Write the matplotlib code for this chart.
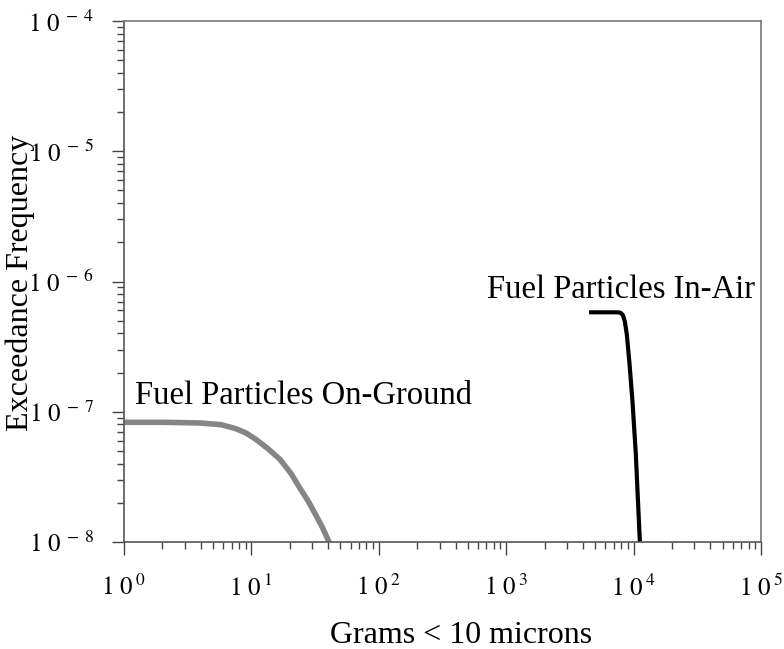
import numpy as np
import matplotlib
matplotlib.use('Agg')
import matplotlib.pyplot as plt
from matplotlib.ticker import LogLocator, FuncFormatter, NullFormatter

plt.rcParams['font.family'] = 'Liberation Serif'
plt.rcParams['mathtext.fontset'] = 'stix'

# curves
ground_x = [1.0, 2.0, 3.95, 5.8, 7.43, 9.0, 10.7, 13.5, 16.8, 20.5, 24.1, 28.0, 31.5, 36.0, 40.7]
ground_y = [8.3e-8, 8.3e-8, 8.2e-8, 7.95e-8, 7.45e-8, 6.9e-8, 6.2e-8, 5.2e-8, 4.3e-8, 3.35e-8,
            2.58e-8, 2.05e-8, 1.66e-8, 1.3e-8, 1.0e-8]
air_x = [4470, 7500, 7900, 8250, 8550, 8850, 9300, 9800, 10400, 11200]
air_y = [5.8e-7, 5.8e-7, 5.75e-7, 5.5e-7, 4.9e-7, 3.9e-7, 2.3e-7, 1.2e-7, 4.8e-8, 1.0e-8]

fig = plt.figure(figsize=(7.84, 6.49), dpi=100)
ax = fig.add_axes([124/784, 1-542/649, (761-124)/784, (542-21)/649])

ax.plot(ground_x, ground_y, color='#858585', lw=4.0, solid_capstyle='butt')
ax.plot(air_x, air_y, color='black', lw=3.0, solid_capstyle='butt', solid_joinstyle='round')

ax.set_xscale('log')
ax.set_yscale('log')
ax.set_xlim(1, 1e5)
ax.set_ylim(1e-8, 1e-4)

def fmt(v, pos):
    n = int(round(np.log10(v)))
    if n < 0:
        return r'$\mathrm{1\,\,0^{\;-\;%d}}$' % (-n)
    return r'$\mathrm{1\,\,0^{\;%d}}$' % n

ax.xaxis.set_major_locator(LogLocator(base=10, numticks=10))
ax.yaxis.set_major_locator(LogLocator(base=10, numticks=10))
ax.xaxis.set_minor_locator(LogLocator(base=10, subs=np.arange(2, 10), numticks=20))
ax.yaxis.set_minor_locator(LogLocator(base=10, subs=np.arange(2, 10), numticks=20))
ax.xaxis.set_major_formatter(FuncFormatter(fmt))
ax.yaxis.set_major_formatter(FuncFormatter(fmt))
ax.xaxis.set_minor_formatter(NullFormatter())
ax.yaxis.set_minor_formatter(NullFormatter())

ax.tick_params(axis='x', which='major', direction='out', length=9.5, width=1, labelsize=18, pad=14, color='#444444')
ax.tick_params(axis='x', which='minor', direction='out', length=5, width=1, color='#444444')
ax.tick_params(axis='y', which='major', direction='out', length=8.5, width=1, labelsize=18, pad=13, color='#444444')
ax.tick_params(axis='y', which='minor', direction='out', length=5, width=1, color='#444444')
ax.tick_params(top=False, right=False)
for s in ax.spines.values():
    s.set_color('#555555')
    s.set_linewidth(1.2)
ax.spines['top'].set_color('#777777')
ax.spines['right'].set_color('#777777')

ax.set_xlabel('Grams < 10 microns', fontsize=23)
ax.xaxis.set_label_coords(0.529, -0.152)
ax.set_ylabel('Exceedance Frequency', fontsize=23)
ax.yaxis.set_label_coords(-0.14, 0.497)

ax.text(1.22, 1.15e-7, 'Fuel Particles On-Ground', fontsize=23.5, ha='left', va='baseline')
ax.text(707, 7.46e-7, 'Fuel Particles In-Air', fontsize=23.5, ha='left', va='baseline')

fig.savefig('out.png', dpi=100)
